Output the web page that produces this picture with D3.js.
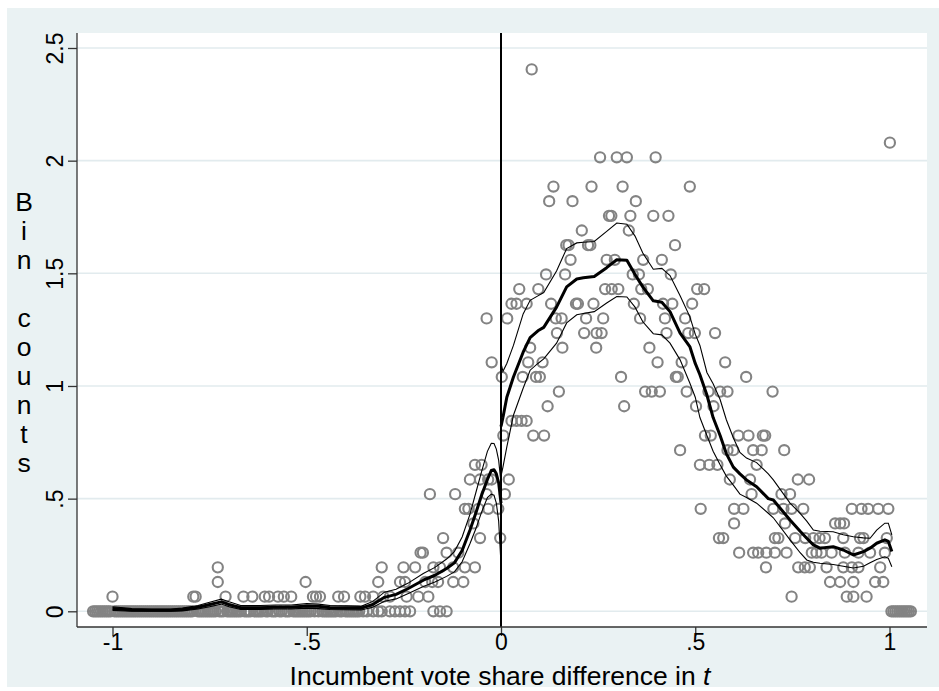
<!DOCTYPE html>
<html><head><meta charset="utf-8">
<script src="https://cdn.jsdelivr.net/npm/d3@7/dist/d3.min.js"></script>
<style>
html,body{margin:0;padding:0;background:#fff;}
svg{display:block;font-family:"Liberation Sans",Arial,Helvetica,sans-serif;}
</style>
</head><body>
<svg id="chart" width="939" height="691"></svg>
<script>
// ---------- DATA ----------
const xTicks = [-1, -0.5, 0, 0.5, 1];
const yTicks = [0, 0.5, 1, 1.5, 2, 2.5];
const xTitle = "Incumbent vote share difference in ";
const xTitleItalic = "t";
const yTitle = "Bin counts";

// bins with zero count (x positions)
const zeroBinsLeft = [
-1.050,-1.045,-1.040,-1.035,-1.030,-1.025,-1.020,-1.015,-1.010,-1.005,
-0.995,-0.990,-0.985,-0.980,-0.975,-0.970,-0.965,-0.960,-0.955,-0.950,
-0.945,-0.940,-0.935,-0.930,-0.925,-0.920,-0.915,-0.910,-0.905,-0.900,
-0.895,-0.890,-0.885,-0.880,-0.875,-0.870,-0.865,-0.860,-0.855,-0.850,
-0.845,-0.840,-0.835,-0.830,-0.825,-0.820,-0.815,-0.810,-0.805,-0.800,
-0.795,-0.780,-0.775,-0.770,-0.765,-0.760,-0.755,-0.750,-0.745,-0.740,
-0.735,-0.725,-0.720,-0.715,-0.705,-0.700,-0.695,-0.690,-0.685,-0.680,
-0.675,-0.670,-0.660,-0.655,-0.650,-0.645,-0.635,-0.630,-0.625,-0.620,
-0.615,-0.605,-0.600,-0.590,-0.585,-0.580,-0.570,-0.565,-0.555,-0.550,
-0.545,-0.535,-0.530,-0.525,-0.520,-0.515,-0.510,-0.505,-0.500,-0.495,
-0.490,-0.480,-0.470,-0.460,-0.455,-0.450,-0.445,-0.440,-0.435,-0.430,
-0.425,-0.415,-0.410,-0.400,-0.395,-0.390,-0.385,-0.380,-0.375,-0.370,
-0.365,-0.355,-0.345,
-0.329,-0.316,-0.307,-0.286,-0.273,-0.260,-0.247,-0.234,-0.174,-0.157,-0.140
];
const zeroBinsRight = [1.005,1.010,1.015,1.020,1.025,1.030,1.035,1.040,1.045,1.050,1.055];

// bins with positive count: { y: bin count, x: bin positions }
const binCounts = [
 {y:0.065, x:[-1.000,-0.792,-0.786,-0.709,-0.663,-0.640,-0.608,-0.597,-0.574,-0.559,-0.540,-0.484,-0.476,-0.466,-0.419,-0.404,-0.362,-0.350,-0.329,-0.303,-0.286,-0.243,-0.213,-0.187,0.748,0.890,0.907,0.941]},
 {y:0.130, x:[-0.729,-0.503,-0.316,-0.260,-0.247,-0.195,-0.177,-0.162,-0.123,-0.097,0.847,0.873,0.907,0.963,0.984]},
 {y:0.195, x:[-0.729,-0.307,-0.251,-0.221,-0.174,-0.157,-0.123,-0.093,-0.067,0.682,0.765,0.782,0.795,0.838,0.881,0.903,0.920,0.976]},
 {y:0.260, x:[-0.207,-0.201,-0.140,-0.110,0.613,0.649,0.662,0.683,0.705,0.735,0.800,0.812,0.825,0.851,0.885,0.920,0.950,0.988]},
 {y:0.325, x:[-0.149,-0.054,-0.002,0.561,0.572,0.705,0.714,0.757,0.783,0.804,0.820,0.834,0.881,0.924,0.933,0.993]},
 {y:0.390, x:[-0.071,0.600,0.731,0.860,0.873,0.883]},
 {y:0.455, x:[-0.093,-0.084,-0.058,-0.033,-0.007,0.514,0.600,0.624,0.701,0.727,0.748,0.778,0.903,0.928,0.945,0.971,0.997]},
 {y:0.520, x:[-0.183,-0.118,-0.037,0.010,0.645,0.722,0.744]},
 {y:0.585, x:[-0.080,-0.054,-0.033,-0.024,0.020,0.589,0.641,0.764,0.793]},
 {y:0.650, x:[-0.067,-0.050,0.512,0.536,0.557,0.658]},
 {y:0.715, x:[0.461,0.583,0.598,0.649,0.671,0.729]},
 {y:0.780, x:[0.006,0.083,0.111,0.525,0.540,0.611,0.637,0.674,0.680]},
 {y:0.845, x:[0.027,0.040,0.053,0.066]},
 {y:0.910, x:[0.120,0.317,0.502,0.547]},
 {y:0.975, x:[0.149,0.371,0.388,0.409,0.478,0.534,0.564,0.583,0.699]},
 {y:1.040, x:[0.002,0.056,0.090,0.100,0.309,0.450,0.455,0.631]},
 {y:1.105, x:[-0.024,0.070,0.107,0.403,0.465,0.577]},
 {y:1.170, x:[0.075,0.158,0.245,0.382]},
 {y:1.235, x:[0.144,0.214,0.246,0.259,0.426,0.482,0.499,0.551]},
 {y:1.300, x:[-0.037,0.016,0.141,0.156,0.219,0.263,0.358,0.422,0.474]},
 {y:1.365, x:[0.027,0.040,0.066,0.129,0.193,0.198,0.238,0.342,0.417,0.441,0.492]},
 {y:1.430, x:[0.047,0.096,0.268,0.285,0.302,0.361,0.378,0.505,0.523]},
 {y:1.495, x:[0.116,0.165,0.339,0.355,0.437]},
 {y:1.560, x:[0.179,0.272,0.293,0.366,0.414]},
 {y:1.625, x:[0.168,0.174,0.224,0.230,0.448]},
 {y:1.690, x:[0.208,0.329]},
 {y:1.755, x:[0.278,0.284,0.333,0.392,0.431]},
 {y:1.820, x:[0.124,0.184,0.347]},
 {y:1.885, x:[0.135,0.233,0.313,0.486]},
 {y:2.015, x:[0.255,0.298,0.324,0.398]},
 {y:2.080, x:[1.001]},
 {y:2.405, x:[0.079]}
];

// local linear density fit and confidence band, left of cutoff
const fitLeftX = [-1.00,-0.95,-0.90,-0.85,-0.82,-0.78,-0.75,-0.72,-0.70,-0.67,-0.62,-0.58,-0.54,-0.50,-0.47,-0.44,-0.40,-0.36,-0.33,-0.30,-0.27,-0.24,-0.20,-0.17,-0.14,-0.12,-0.10,-0.08,-0.065,-0.05,-0.035,-0.025,-0.018,-0.012,-0.006,0.0];
const fitLeftY = [0.012,0.006,0.005,0.005,0.008,0.018,0.030,0.042,0.030,0.016,0.016,0.018,0.018,0.024,0.022,0.016,0.015,0.014,0.030,0.062,0.075,0.100,0.138,0.160,0.190,0.215,0.270,0.360,0.435,0.515,0.585,0.625,0.628,0.610,0.570,0.480];
const ciLeftLo = [0.004,0.000,0.000,0.000,0.002,0.010,0.020,0.032,0.020,0.008,0.008,0.010,0.010,0.014,0.012,0.008,0.007,0.006,0.018,0.045,0.055,0.078,0.110,0.130,0.155,0.175,0.220,0.300,0.365,0.440,0.505,0.520,0.515,0.480,0.400,0.210];
const ciLeftHi = [0.020,0.012,0.010,0.010,0.014,0.026,0.040,0.054,0.042,0.026,0.026,0.028,0.028,0.034,0.032,0.026,0.024,0.022,0.044,0.085,0.098,0.124,0.168,0.195,0.232,0.265,0.330,0.430,0.525,0.620,0.710,0.746,0.745,0.720,0.670,0.570];

// right of cutoff
const fitRightX = [0.000,0.005,0.015,0.032,0.057,0.075,0.095,0.110,0.143,0.169,0.195,0.212,0.240,0.272,0.298,0.324,0.345,0.365,0.392,0.414,0.435,0.461,0.486,0.500,0.512,0.530,0.546,0.564,0.580,0.598,0.615,0.632,0.658,0.688,0.701,0.744,0.770,0.787,0.804,0.821,0.855,0.881,0.907,0.933,0.950,0.967,0.988,0.997,1.006];
const fitRightY = [0.820,0.860,0.950,1.040,1.150,1.215,1.245,1.260,1.350,1.440,1.475,1.480,1.486,1.525,1.560,1.558,1.495,1.440,1.378,1.372,1.330,1.235,1.175,1.100,1.050,0.960,0.860,0.780,0.700,0.640,0.610,0.583,0.553,0.500,0.494,0.405,0.355,0.324,0.295,0.280,0.287,0.272,0.250,0.265,0.280,0.302,0.317,0.310,0.265];
const ciRightLo = [0.600,0.640,0.730,0.870,0.990,1.070,1.100,1.120,1.190,1.280,1.316,1.322,1.330,1.368,1.397,1.395,1.350,1.285,1.232,1.227,1.190,1.116,1.013,0.950,0.860,0.780,0.710,0.650,0.600,0.560,0.520,0.505,0.480,0.435,0.415,0.317,0.260,0.228,0.218,0.213,0.208,0.200,0.192,0.200,0.215,0.230,0.242,0.235,0.198];
const ciRightHi = [1.100,1.065,1.100,1.180,1.320,1.380,1.400,1.415,1.510,1.610,1.635,1.638,1.641,1.686,1.723,1.718,1.665,1.590,1.518,1.522,1.490,1.400,1.308,1.230,1.180,1.060,1.010,0.940,0.850,0.770,0.705,0.680,0.660,0.610,0.583,0.480,0.435,0.400,0.361,0.355,0.353,0.340,0.331,0.326,0.324,0.360,0.391,0.391,0.339];

// ---------- DRAWING ----------
const svg = d3.select("#chart");
const outer = {l: 7, t: 8, r: 939, b: 687};
const plot = {l: 77, r: 927, t: 33, b: 627};

svg.append("rect").attr("x", outer.l).attr("y", outer.t)
  .attr("width", outer.r - outer.l).attr("height", outer.b - outer.t)
  .attr("fill", "#eaf2f3");
svg.append("rect").attr("x", plot.l).attr("y", plot.t)
  .attr("width", plot.r - plot.l).attr("height", plot.b - plot.t)
  .attr("fill", "#ffffff");

const x = d3.scaleLinear().domain([-1, 1]).range([112.5, 889.5]);
const y = d3.scaleLinear().domain([0, 2.5]).range([611.3, 48]);

const fmt = d => d === 0 ? "0" : String(d).replace("0.", ".");

// gridlines
svg.append("g").selectAll("line").data(yTicks).join("line")
  .attr("x1", plot.l).attr("x2", plot.r)
  .attr("y1", d => y(d)).attr("y2", d => y(d))
  .attr("stroke", "#e2ebee").attr("stroke-width", 1.6);

svg.append("clipPath").attr("id", "clip").append("rect")
  .attr("x", plot.l).attr("y", plot.t).attr("width", plot.r - plot.l).attr("height", plot.b - plot.t);
const g = svg.append("g").attr("clip-path", "url(#clip)");

// points
const pts = [];
zeroBinsLeft.forEach(v => pts.push([v, 0]));
zeroBinsRight.forEach(v => pts.push([v, 0]));
binCounts.forEach(b => b.x.forEach(v => pts.push([v, b.y])));
g.append("g").selectAll("circle").data(pts).join("circle")
  .attr("cx", d => x(d[0])).attr("cy", d => y(d[1])).attr("r", 5.1)
  .attr("fill", "none").attr("stroke", "#838383").attr("stroke-width", 2.1);

// fit lines
const line = d3.line().x(d => x(d[0])).y(d => y(d[1]));
const zipXY = (xs, ys) => xs.map((v, i) => [v, ys[i]]);
const thin = [zipXY(fitLeftX, ciLeftLo), zipXY(fitLeftX, ciLeftHi), zipXY(fitRightX, ciRightLo), zipXY(fitRightX, ciRightHi)];
const thick = [zipXY(fitLeftX, fitLeftY), zipXY(fitRightX, fitRightY)];
g.append("g").selectAll("path").data(thin).join("path")
  .attr("d", line).attr("fill", "none").attr("stroke", "#000").attr("stroke-width", 1.1);
g.append("g").selectAll("path").data(thick).join("path")
  .attr("d", line).attr("fill", "none").attr("stroke", "#000").attr("stroke-width", 3)
  .attr("stroke-linejoin", "round");

// cutoff line
g.append("line").attr("x1", x(0)).attr("x2", x(0)).attr("y1", plot.t).attr("y2", plot.b)
  .attr("stroke", "#000").attr("stroke-width", 2);

// y axis
const yAxis = svg.append("g").attr("transform", `translate(${plot.l},0)`)
  .call(d3.axisLeft(y).tickValues(yTicks).tickSize(9).tickFormat(fmt));
yAxis.select(".domain").remove();
yAxis.selectAll(".tick line").attr("stroke", "#333").attr("stroke-width", 1.3);
yAxis.selectAll(".tick text")
  .attr("x", null).attr("dy", null).attr("y", null)
  .attr("text-anchor", "middle")
  .attr("transform", "translate(-14,0) rotate(-90)")
  .attr("font-size", 23).attr("fill", "#000")
  .style("font-family", "'Liberation Sans', Arial, sans-serif");
svg.append("line").attr("x1", plot.l).attr("x2", plot.l).attr("y1", plot.t).attr("y2", plot.b)
  .attr("stroke", "#333").attr("stroke-width", 1.3);

// x axis
const xAxis = svg.append("g").attr("transform", `translate(0,${plot.b})`)
  .call(d3.axisBottom(x).tickValues(xTicks).tickSize(9).tickFormat(fmt));
xAxis.select(".domain").remove();
xAxis.selectAll(".tick line").attr("stroke", "#333").attr("stroke-width", 1.3);
xAxis.selectAll(".tick text")
  .attr("y", 23).attr("dy", 0)
  .attr("font-size", 23).attr("fill", "#000")
  .style("font-family", "'Liberation Sans', Arial, sans-serif");
svg.append("line").attr("x1", plot.l).attr("x2", plot.r).attr("y1", plot.b).attr("y2", plot.b)
  .attr("stroke", "#333").attr("stroke-width", 1.3);

// x title
const xt = svg.append("text").attr("x", (plot.l + plot.r) / 2 - 2).attr("y", 685)
  .attr("text-anchor", "middle").attr("font-size", 26.5).attr("fill", "#000");
xt.append("tspan").text(xTitle);
xt.append("tspan").attr("font-style", "italic").text(xTitleItalic);

// y title, stacked letters
const chars = yTitle.split("");
svg.append("g").selectAll("text").data(chars).join("text")
  .attr("x", 24).attr("y", (d, i) => 211 + i * 29)
  .attr("text-anchor", "middle").attr("font-size", 26.5).attr("fill", "#000")
  .text(d => d);
</script>
</body></html>
